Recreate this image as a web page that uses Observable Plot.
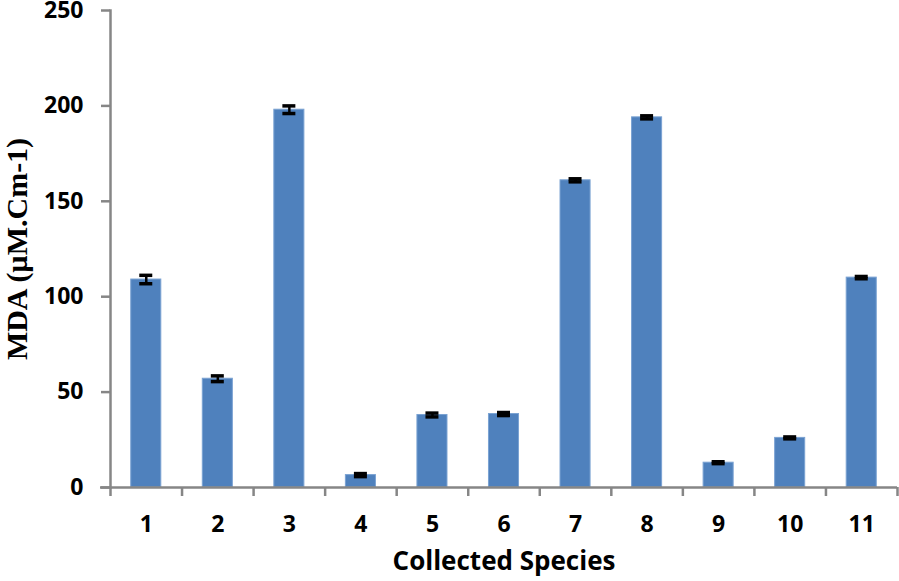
<!DOCTYPE html>
<html>
<head>
<meta charset="utf-8">
<script src="https://cdn.jsdelivr.net/npm/d3@7"></script>
<script src="https://cdn.jsdelivr.net/npm/@observablehq/plot@0.6"></script>
<style>
  html, body { margin: 0; padding: 0; background: #fff; }
  #chart { width: 899px; height: 581px; }
</style>
</head>
<body>
<div id="chart"></div>
<script>
const species = ["1","2","3","4","5","6","7","8","9","10","11"];
const mda = [109, 57, 198, 6.5, 38, 38.5, 161, 194, 13, 26, 110];
const err = [2.2, 1.5, 2, 0.8, 1, 0.8, 0.8, 0.8, 0.5, 0.5, 0.6];
const yTicks = [0, 50, 100, 150, 200, 250];

const data = species.map((s, i) => ({s, v: mda[i], lo: mda[i] - err[i], hi: mda[i] + err[i]}));

const W = 899, H = 581, mL = 110, mR = 2, mT = 10, mB = 94;
const pInner = 0.58;
const band = (W - mL - mR) / species.length;
const bw = band * (1 - pInner);
const capInset = (bw - 13) / 2;
const gray = "#868686";
const sans = "'Open Sans', Lato, sans-serif";

const chart = Plot.plot({
  width: W, height: H,
  marginLeft: mL, marginRight: mR, marginTop: mT, marginBottom: mB,
  style: {fontFamily: sans, background: "#fff"},
  x: {type: "band", domain: species, paddingInner: pInner, paddingOuter: pInner / 2, align: 0.5, round: false},
  y: {domain: [0, 250], range: [H - mB, mT]},
  marks: [
    Plot.barY(data, {x: "s", y: "v", fill: "#4f81bd", stroke: "#7aa2d2", strokeWidth: 1}),
    Plot.ruleX(data, {x: "s", y1: "lo", y2: "hi", stroke: "#000", strokeWidth: 2.5}),
    Plot.tickY(data, {x: "s", y: "lo", stroke: "#000", strokeWidth: 3.5, insetLeft: capInset, insetRight: capInset}),
    Plot.tickY(data, {x: "s", y: "hi", stroke: "#000", strokeWidth: 3.5, insetLeft: capInset, insetRight: capInset}),
    Plot.ruleY([0], {stroke: gray, strokeWidth: 2.5, insetLeft: -10}),
    Plot.frame({anchor: "left", stroke: gray, strokeWidth: 2.5}),
    Plot.axisY({ticks: yTicks, tickSize: 9, tickPadding: 18, stroke: gray, strokeWidth: 2.5,
      label: null, fontSize: 23, fontWeight: "bold", color: "#000", tickFormat: d => d}),
    Plot.axisX({tickSize: 0, tickPadding: 28, label: null, fontSize: 23, fontWeight: "bold", color: "#000"}),
    Plot.axisX({tickSize: 9, tickFormat: () => "", dx: -band / 2, stroke: gray, strokeWidth: 2.5, label: null}),
    Plot.axisX({ticks: ["11"], tickSize: 9, tickFormat: () => "", dx: band / 2, stroke: gray, strokeWidth: 2.5, label: null}),
    Plot.text(["Collected Species"], {frameAnchor: "bottom", textAnchor: "middle", lineAnchor: "middle", dy: 74,
      fontSize: 26, fontWeight: "bold", fill: "#000", fontFamily: sans}),
    Plot.text(["MDA (\u00b5M.Cm-1)"], {frameAnchor: "left", textAnchor: "middle", lineAnchor: "middle", dx: -93, rotate: -90,
      fontSize: 30, fontWeight: "bold", fill: "#000", fontFamily: "'Liberation Serif', 'DejaVu Serif', serif"})
  ]
});
document.getElementById("chart").appendChild(chart);
</script>
</body>
</html>
